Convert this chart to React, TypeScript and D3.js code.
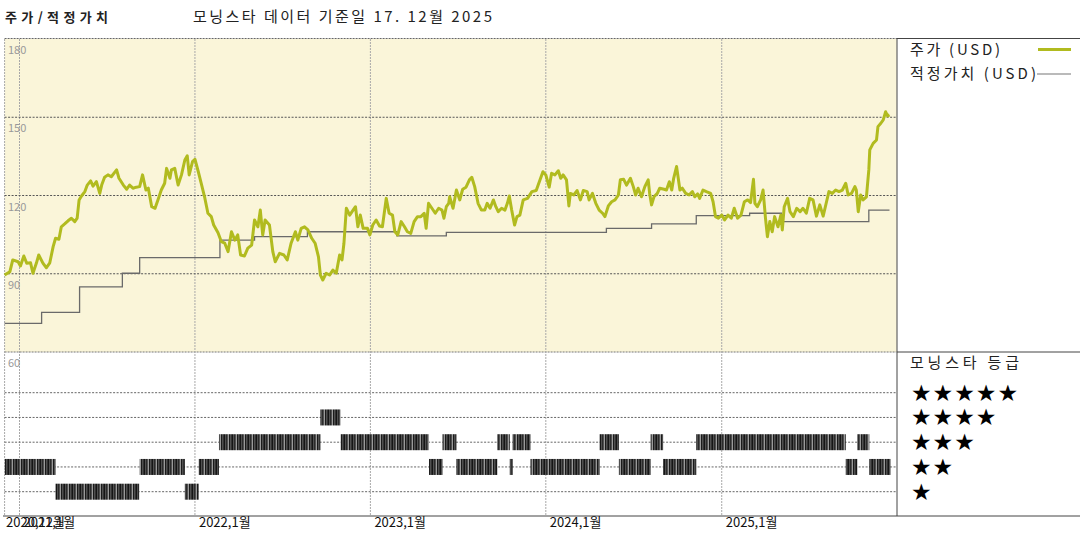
import React from "react";
import * as d3 from "d3";

const W = 1080;
const H = 540;

// 주가 (USD) – date, value
const priceData: [string, number][] = [
  ["2020-12-01", 89.5], ["2020-12-12", 90.8], ["2020-12-18", 95.3], ["2020-12-29", 94.6],
  ["2021-01-03", 93.0], ["2021-01-10", 96.8], ["2021-01-16", 94.0], ["2021-01-24", 94.2],
  ["2021-01-29", 90.2], ["2021-02-05", 94.0], ["2021-02-10", 97.2], ["2021-02-19", 94.0],
  ["2021-02-26", 92.3], ["2021-03-05", 94.2], ["2021-03-12", 100.4], ["2021-03-17", 103.6],
  ["2021-03-24", 103.2], ["2021-03-29", 108.0], ["2021-04-05", 109.1], ["2021-04-12", 110.3],
  ["2021-04-19", 111.3], ["2021-04-26", 110.0], ["2021-05-01", 111.3], ["2021-05-05", 118.3],
  ["2021-05-10", 119.8], ["2021-05-17", 121.5], ["2021-05-22", 124.0], ["2021-05-29", 125.6],
  ["2021-06-03", 123.6], ["2021-06-10", 125.3], ["2021-06-17", 120.8], ["2021-06-21", 124.0],
  ["2021-06-27", 127.0], ["2021-07-04", 127.9], ["2021-07-11", 127.2], ["2021-07-22", 129.8],
  ["2021-07-27", 126.6], ["2021-08-05", 124.0], ["2021-08-12", 122.4], ["2021-08-18", 124.0],
  ["2021-08-25", 122.8], ["2021-09-01", 123.2], ["2021-09-08", 123.4], ["2021-09-14", 127.9],
  ["2021-09-21", 122.1], ["2021-09-26", 122.8], ["2021-10-03", 115.7], ["2021-10-10", 115.1],
  ["2021-10-16", 118.3], ["2021-10-23", 122.1], ["2021-10-30", 124.7], ["2021-11-03", 130.4],
  ["2021-11-10", 126.6], ["2021-11-13", 129.8], ["2021-11-20", 130.4], ["2021-11-27", 124.0],
  ["2021-12-04", 127.9], ["2021-12-11", 133.6], ["2021-12-16", 135.2], ["2021-12-20", 127.9],
  ["2021-12-27", 133.0], ["2022-01-01", 133.9], ["2022-01-08", 129.1], ["2022-01-15", 124.0],
  ["2022-01-21", 119.5], ["2022-01-28", 113.2], ["2022-02-04", 111.9], ["2022-02-09", 108.7],
  ["2022-02-18", 105.7], ["2022-02-25", 102.3], ["2022-03-04", 101.7], ["2022-03-11", 98.5],
  ["2022-03-18", 106.1], ["2022-03-25", 102.9], ["2022-03-31", 104.9], ["2022-04-06", 97.2],
  ["2022-04-14", 96.8], ["2022-04-21", 99.8], ["2022-04-29", 101.0], ["2022-05-05", 110.6],
  ["2022-05-12", 108.0], ["2022-05-17", 114.4], ["2022-05-22", 104.9], ["2022-05-27", 110.6],
  ["2022-06-05", 108.7], ["2022-06-12", 98.5], ["2022-06-17", 94.6], ["2022-06-26", 97.8],
  ["2022-07-05", 97.2], ["2022-07-12", 95.3], ["2022-07-20", 101.7], ["2022-07-29", 106.1],
  ["2022-08-03", 102.9], ["2022-08-10", 107.4], ["2022-08-17", 108.0], ["2022-08-24", 106.8],
  ["2022-09-01", 103.6], ["2022-09-08", 101.7], ["2022-09-15", 96.5], ["2022-09-19", 89.5],
  ["2022-09-24", 87.6], ["2022-10-01", 90.2], ["2022-10-08", 89.5], ["2022-10-15", 91.4],
  ["2022-10-22", 90.2], ["2022-10-29", 97.2], ["2022-11-03", 95.3], ["2022-11-07", 101.7],
  ["2022-11-12", 115.1], ["2022-11-19", 112.5], ["2022-11-26", 114.4], ["2022-12-01", 115.7],
  ["2022-12-06", 108.0], ["2022-12-11", 112.5], ["2022-12-17", 107.4], ["2022-12-26", 107.4],
  ["2022-12-31", 104.9], ["2023-01-06", 108.7], ["2023-01-13", 110.6], ["2023-01-20", 108.3],
  ["2023-01-26", 108.0], ["2023-02-03", 118.9], ["2023-02-09", 113.2], ["2023-02-16", 112.5],
  ["2023-02-21", 106.1], ["2023-02-27", 104.9], ["2023-03-06", 110.0], ["2023-03-13", 108.0],
  ["2023-03-19", 106.1], ["2023-03-26", 105.5], ["2023-04-02", 110.0], ["2023-04-09", 111.9],
  ["2023-04-16", 111.9], ["2023-04-23", 113.2], ["2023-04-27", 107.4], ["2023-05-02", 117.0],
  ["2023-05-09", 115.1], ["2023-05-16", 113.2], ["2023-05-23", 115.1], ["2023-05-30", 114.4],
  ["2023-06-03", 111.3], ["2023-06-08", 115.7], ["2023-06-13", 117.0], ["2023-06-15", 119.5],
  ["2023-06-22", 115.1], ["2023-06-29", 122.1], ["2023-07-06", 118.3], ["2023-07-12", 122.4],
  ["2023-07-19", 123.2], ["2023-07-26", 126.0], ["2023-07-31", 127.0], ["2023-08-06", 123.4],
  ["2023-08-13", 117.0], ["2023-08-20", 114.4], ["2023-08-27", 114.4], ["2023-09-01", 117.0],
  ["2023-09-07", 115.1], ["2023-09-14", 118.3], ["2023-09-19", 115.7], ["2023-09-24", 113.8],
  ["2023-10-01", 115.1], ["2023-10-08", 114.4], ["2023-10-13", 117.0], ["2023-10-17", 119.8],
  ["2023-10-22", 114.4], ["2023-10-28", 108.7], ["2023-11-02", 111.9], ["2023-11-08", 112.5],
  ["2023-11-15", 118.3], ["2023-11-24", 118.9], ["2023-12-03", 121.5], ["2023-12-12", 121.9],
  ["2023-12-20", 126.0], ["2023-12-26", 129.1], ["2024-01-01", 127.9], ["2024-01-08", 123.2],
  ["2024-01-13", 128.5], ["2024-01-20", 127.9], ["2024-01-27", 129.5], ["2024-02-01", 126.6],
  ["2024-02-06", 127.9], ["2024-02-13", 126.0], ["2024-02-18", 116.0], ["2024-02-21", 120.8],
  ["2024-02-28", 120.2], ["2024-03-06", 121.9], ["2024-03-13", 118.3], ["2024-03-19", 121.9],
  ["2024-03-27", 121.5], ["2024-03-31", 118.3], ["2024-04-07", 120.8], ["2024-04-14", 117.0],
  ["2024-04-21", 114.4], ["2024-04-28", 113.2], ["2024-05-03", 111.9], ["2024-05-10", 116.0],
  ["2024-05-17", 117.6], ["2024-05-24", 118.3], ["2024-05-31", 120.2], ["2024-06-04", 126.0],
  ["2024-06-11", 126.2], ["2024-06-17", 124.0], ["2024-06-25", 126.6], ["2024-07-01", 123.4],
  ["2024-07-06", 120.2], ["2024-07-11", 122.8], ["2024-07-18", 119.5], ["2024-07-25", 123.4],
  ["2024-08-01", 126.0], ["2024-08-04", 120.8], ["2024-08-08", 116.4], ["2024-08-13", 119.5],
  ["2024-08-20", 120.8], ["2024-08-25", 122.8], ["2024-09-03", 122.4], ["2024-09-08", 122.1],
  ["2024-09-14", 125.3], ["2024-09-19", 122.1], ["2024-09-23", 126.6], ["2024-09-29", 131.1],
  ["2024-10-06", 122.1], ["2024-10-11", 122.8], ["2024-10-18", 120.8], ["2024-10-25", 120.2],
  ["2024-11-01", 121.5], ["2024-11-06", 119.5], ["2024-11-12", 120.6], ["2024-11-16", 118.9],
  ["2024-11-23", 122.1], ["2024-11-30", 121.5], ["2024-12-09", 120.8], ["2024-12-14", 117.6],
  ["2024-12-19", 111.9], ["2024-12-25", 111.3], ["2025-01-01", 112.5], ["2025-01-07", 110.6],
  ["2025-01-14", 112.5], ["2025-01-21", 111.3], ["2025-01-27", 115.1], ["2025-02-03", 111.3],
  ["2025-02-10", 112.5], ["2025-02-17", 117.6], ["2025-02-24", 118.3], ["2025-03-02", 117.3],
  ["2025-03-08", 126.2], ["2025-03-11", 117.0], ["2025-03-16", 115.7], ["2025-03-23", 118.3],
  ["2025-03-28", 122.1], ["2025-04-02", 111.3], ["2025-04-06", 104.2], ["2025-04-11", 110.0],
  ["2025-04-16", 106.1], ["2025-04-21", 111.9], ["2025-04-28", 108.0], ["2025-05-04", 112.5],
  ["2025-05-07", 106.8], ["2025-05-11", 115.7], ["2025-05-18", 118.9], ["2025-05-23", 113.8],
  ["2025-05-30", 111.9], ["2025-06-06", 115.1], ["2025-06-13", 113.8], ["2025-06-19", 115.1],
  ["2025-06-26", 113.2], ["2025-07-03", 118.9], ["2025-07-10", 118.3], ["2025-07-17", 112.1],
  ["2025-07-24", 116.4], ["2025-07-31", 112.1], ["2025-08-07", 117.6], ["2025-08-12", 121.5],
  ["2025-08-19", 120.8], ["2025-08-26", 122.1], ["2025-09-02", 121.5], ["2025-09-09", 122.1],
  ["2025-09-16", 124.7], ["2025-09-21", 120.2], ["2025-09-28", 120.8], ["2025-10-05", 123.4],
  ["2025-10-08", 122.1], ["2025-10-12", 113.8], ["2025-10-17", 120.2], ["2025-10-22", 118.3],
  ["2025-10-29", 119.5], ["2025-11-03", 129.8], ["2025-11-05", 137.5], ["2025-11-12", 140.0],
  ["2025-11-19", 141.3], ["2025-11-22", 146.4], ["2025-11-28", 147.7], ["2025-12-03", 149.0],
  ["2025-12-08", 152.1], ["2025-12-12", 150.5], ["2025-12-16", 150.9],
];

// 적정가치 (USD) – step changes
const fairValueData: [string, number][] = [
  ["2020-12-01", 71.0], ["2021-02-16", 75.2], ["2021-05-06", 85.0], ["2021-08-03", 90.2],
  ["2021-09-08", 96.2], ["2022-02-22", 102.9], ["2022-05-05", 104.2], ["2022-08-23", 106.1],
  ["2023-02-25", 104.5], ["2023-06-08", 105.9], ["2024-05-06", 107.4], ["2024-08-08", 109.1],
  ["2024-11-09", 112.3], ["2025-02-28", 113.2], ["2025-05-05", 110.0], ["2025-11-03", 114.4],
  ["2025-12-16", 114.4],
];

// 모닝스타 등급 – [start, end, stars]
const ratingSegments: [string, string, number][] = [
  ["2020-12-01", "2021-03-17", 2], ["2021-03-17", "2021-09-07", 1], ["2021-09-08", "2021-12-11", 2],
  ["2021-12-11", "2022-01-09", 1], ["2022-01-09", "2022-02-20", 2], ["2022-02-20", "2022-09-19", 3],
  ["2022-09-19", "2022-10-31", 4], ["2022-10-31", "2023-05-03", 3], ["2023-05-03", "2023-05-31", 2],
  ["2023-05-31", "2023-06-29", 3], ["2023-06-29", "2023-09-22", 2], ["2023-09-22", "2023-10-18", 3],
  ["2023-10-18", "2023-10-24", 2], ["2023-10-24", "2023-11-30", 3], ["2023-11-30", "2024-04-22", 2],
  ["2024-04-22", "2024-06-01", 3], ["2024-06-01", "2024-08-06", 2], ["2024-08-06", "2024-09-01", 3],
  ["2024-09-01", "2024-11-09", 2], ["2024-11-09", "2025-09-16", 3], ["2025-09-16", "2025-10-10", 2],
  ["2025-10-10", "2025-11-04", 3], ["2025-11-04", "2025-12-18", 2],
];

const yTicks = [60, 90, 120, 150, 180];
const xTickDates = ["2020-12-01", "2021-01-01", "2022-01-01", "2023-01-01", "2024-01-01", "2025-01-01"];
const xTickLabels = ["2020,12월", "2021,1월", "2022,1월", "2023,1월", "2024,1월", "2025,1월"];
const ratingRows = [5, 4, 3, 2, 1];
const legendLabels = ["주가 (USD)", "적정가치 (USD)"];
const titleText = "주가/적정가치";
const subtitleText = "모닝스타 데이터 기준일 17. 12월 2025";
const ratingTitle = "모닝스타 등급";

const PRICE_COLOR = "#b1bb1f";
const FV_COLOR = "#6a6a6a";
const BG = "#faf5d9";
const FONT = "'Noto Sans CJK KR', 'Noto Sans', sans-serif";

export default function App() {
  const parse = d3.timeParse("%Y-%m-%d");
  const pd = (s: string) => parse(s) as Date;

  const left = 4.6;
  const right = 896.7;
  const top = 39;
  const mid = 352;
  const bottom = 516;

  const x = d3.scaleTime().domain([pd("2020-12-01"), pd("2025-12-31")]).range([left, right]);
  const y = d3.scaleLinear().domain([60, 180]).range([mid, top]);
  const r = d3.scaleLinear().domain([1, 5]).range([491.7, 392.7]);

  const priceLine = d3
    .line<[string, number]>()
    .x((d) => x(pd(d[0])))
    .y((d) => y(d[1]))
    .curve(d3.curveLinear);
  const fvLine = d3
    .line<[string, number]>()
    .x((d) => x(pd(d[0])))
    .y((d) => y(d[1]))
    .curve(d3.curveStepAfter);

  const starX = (i: number) => 911 + i * 21.6;

  return (
    <svg
      width={W}
      height={H}
      style={{ position: "absolute", left: 0, top: 0, background: "#fff" }}
      fontFamily={FONT}
    >
      <defs>
        <pattern id="hatch" patternUnits="userSpaceOnUse" width="8" height="20">
          <rect x="0" y="0" width="8" height="20" fill="#505050" />
          <rect x="0" y="0" width="1" height="20" fill="#151515" />
          <rect x="2" y="0" width="1" height="20" fill="#2a2a2a" />
          <rect x="4" y="0" width="1" height="20" fill="#9a9a9a" />
          <rect x="5" y="0" width="1" height="20" fill="#1a1a1a" />
          <rect x="7" y="0" width="1" height="20" fill="#333" />
        </pattern>
      </defs>

      {/* titles */}
      <text x={5} y={22} fontSize={13} fontWeight="bold" fill="#222" textLength={103} lengthAdjust="spacing">
        {titleText}
      </text>
      <text x={193} y={22} fontSize={15} fill="#222" textLength={299} lengthAdjust="spacing">
        {subtitleText}
      </text>

      {/* top panel background */}
      <rect x={left} y={top} width={right - left} height={mid - top} fill={BG} />

      {/* frame lines */}
      <line x1={left} x2={897} y1={38.5} y2={38.5} stroke="#666" strokeDasharray="2,1" />
      <line x1={897} x2={W} y1={38.5} y2={38.5} stroke="#444" />
      <line x1={897} x2={897} y1={38.5} y2={bottom} stroke="#444" />
      <line x1={897} x2={W} y1={mid} y2={mid} stroke="#444" />
      <line x1={3} x2={W} y1={bottom} y2={bottom} stroke="#444" />
      <line x1={left} x2={right} y1={mid} y2={mid} stroke="#777" strokeDasharray="2,1" />

      {/* vertical grid */}
      {xTickDates.map((d) => (
        <line
          key={"vg" + d}
          x1={x(pd(d))}
          x2={x(pd(d))}
          y1={top}
          y2={bottom}
          stroke="#a8a8a8"
          strokeDasharray="2,1"
        />
      ))}

      {/* horizontal grid (top panel) */}
      {yTicks
        .filter((t) => t > 60 && t < 180)
        .map((t) => (
          <line key={"hg" + t} x1={left} x2={right} y1={y(t)} y2={y(t)} stroke="#555" strokeDasharray="2,1.5" />
        ))}

      {/* y labels */}
      {yTicks.map((t) => (
        <text key={"yl" + t} x={8} y={y(t) + 15} fontSize={11} fill="#999">
          {t}
        </text>
      ))}

      {/* fair value */}
      <path d={fvLine(fairValueData) || ""} fill="none" stroke={FV_COLOR} strokeWidth={1.3} />

      {/* price */}
      <path
        d={priceLine(priceData) || ""}
        fill="none"
        stroke={PRICE_COLOR}
        strokeWidth={3}
        strokeLinejoin="round"
      />

      {/* rating rows */}
      {ratingRows.map((s) => (
        <line key={"rr" + s} x1={left} x2={right} y1={r(s)} y2={r(s)} stroke="#666" strokeDasharray="2,1.5" />
      ))}

      {/* rating bars */}
      {ratingSegments.map(([a, b, s], i) => (
        <rect
          key={"rb" + i}
          x={x(pd(a))}
          width={Math.max(2, x(pd(b)) - x(pd(a)))}
          y={r(s) - 8}
          height={16}
          fill="url(#hatch)"
        />
      ))}

      {/* x labels */}
      {xTickDates.map((d, i) => (
        <text key={"xl" + d} x={x(pd(d)) + (i === 0 ? 1.5 : 4)} y={527} fontSize={13} fill="#111">
          {xTickLabels[i]}
        </text>
      ))}

      {/* legend */}
      <text x={910} y={55} fontSize={15} fill="#222" textLength={90} lengthAdjust="spacing">
        {legendLabels[0]}
      </text>
      <line x1={1038} x2={1071} y1={49.5} y2={49.5} stroke={PRICE_COLOR} strokeWidth={3} />
      <text x={910} y={79} fontSize={15} fill="#222" textLength={126} lengthAdjust="spacing">
        {legendLabels[1]}
      </text>
      <line x1={1037} x2={1071} y1={74} y2={74} stroke="#777" strokeWidth={1.2} />

      <text x={910} y={368} fontSize={15} fill="#222" textLength={109} lengthAdjust="spacing">
        {ratingTitle}
      </text>
      {ratingRows.map((s) =>
        d3.range(s).map((i) => (
          <text
            key={"st" + s + "-" + i}
            x={starX(i)}
            y={r(s) + 8}
            fontSize={23}
            fill="#000"
            fontFamily="'DejaVu Sans', sans-serif"
          >
            ★
          </text>
        ))
      )}
    </svg>
  );
}
